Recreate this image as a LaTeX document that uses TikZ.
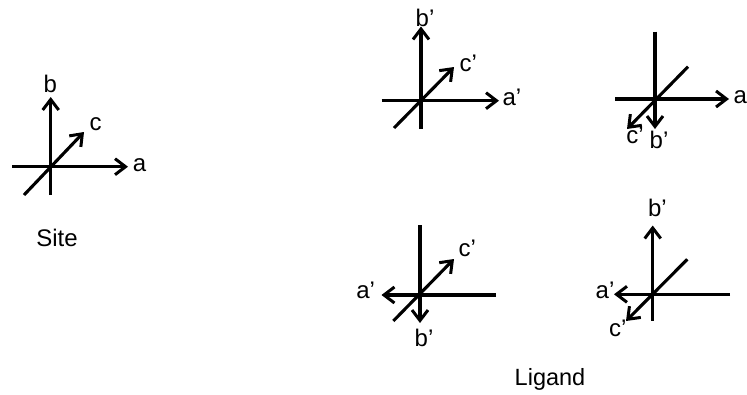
\documentclass[tikz,border=0pt]{standalone}
\usepackage{fontspec}
\setmainfont{Liberation Sans}
\usetikzlibrary{arrows.meta}
\begin{document}
\begin{tikzpicture}[x=1pt,y=-1pt,
  axisline/.style={line width=3.1pt,line cap=butt},
  axisarrow/.style={axisline,-{Straight Barb[length=10.5pt,width=16pt,line width=3pt]}},
  lbl/.style={inner sep=0pt,anchor=base west,font=\fontsize{24}{27}\selectfont},
  captionlbl/.style={inner sep=0pt,anchor=base,font=\fontsize{23.5}{27}\selectfont}]
\path[use as bounding box] (0,0) rectangle (747,394);

% ---------------- Site ----------------
\coordinate (sO)  at (50.7,166.7);
\coordinate (sAl) at (12,166.7);
\coordinate (sAr) at (128,166.7);
\coordinate (sBb) at (50.7,195);
\coordinate (sBt) at (50.7,97);
\coordinate (sCt) at (24,195);
\coordinate (sCh) at (84,132);
\draw[axisarrow] (sAl) -- (sAr);
\draw[axisarrow] (sBb) -- (sBt);
\draw[axisarrow] (sCt) -- (sCh);
\node[lbl] (sa) at (132.7,171) {a};
\node[lbl] (sb) at (43.5,92.7) {b};
\node[lbl] (sc) at (89.3,130) {c};
\node[lbl] (site) at (36.2,246.7) {Site};

% ---------------- Ligand 1 (top left) ----------------
\coordinate (l1O)  at (421,100.7);
\coordinate (l1Al) at (381.7,100.7);
\coordinate (l1Ar) at (499,100.7);
\coordinate (l1Bb) at (421,129);
\coordinate (l1Bt) at (421,26.5);
\coordinate (l1Ct) at (394,128);
\coordinate (l1Ch) at (454,67);
\draw[axisarrow] (l1Al) -- (l1Ar);
\draw[axisarrow] (l1Bb) -- (l1Bt);
\draw[axisarrow] (l1Ct) -- (l1Ch);
\node[lbl] (l1a) at (502.3,105.7) {a'};
\node[lbl] (l1b) at (415.5,26.7) {b'};
\node[lbl] (l1c) at (459.3,71.7) {c'};

% ---------------- Ligand 2 (top right) ----------------
\coordinate (l2O)  at (655,99);
\coordinate (l2Al) at (615,99);
\coordinate (l2Ar) at (729,99);
\coordinate (l2Bt) at (655,31.7);
\coordinate (l2Bb) at (655,129);
\coordinate (l2Ct) at (688,66.7);
\coordinate (l2Ch) at (627,129);
\draw[axisarrow] (l2Al) -- (l2Ar);
\draw[axisarrow] (l2Bt) -- (l2Bb);
\draw[axisarrow] (l2Ct) -- (l2Ch);
\node[lbl] (l2a) at (733.3,103.3) {a};
\node[lbl] (l2c) at (626.2,143.3) {c'};
\node[lbl] (l2b) at (649.5,148.3) {b'};

% ---------------- Ligand 3 (bottom left) ----------------
\coordinate (l3O)  at (420,295);
\coordinate (l3Ar) at (496,295);
\coordinate (l3Al) at (381.5,295);
\coordinate (l3Bt) at (420,225);
\coordinate (l3Bb) at (420,323);
\coordinate (l3Ct) at (393.3,321);
\coordinate (l3Ch) at (454,259);
\draw[axisarrow] (l3Ar) -- (l3Al);
\draw[axisarrow] (l3Bt) -- (l3Bb);
\draw[axisarrow] (l3Ct) -- (l3Ch);
\node[lbl] (l3a) at (356.2,298.3) {a'};
\node[lbl] (l3c) at (458.3,256.7) {c'};
\node[lbl] (l3b) at (414.5,346.7) {b'};

% ---------------- Ligand 4 (bottom right) ----------------
\coordinate (l4O)  at (652.7,294.3);
\coordinate (l4Ar) at (730,294.3);
\coordinate (l4Al) at (614,294.3);
\coordinate (l4Bb) at (652.7,320.7);
\coordinate (l4Bt) at (652.7,225.5);
\coordinate (l4Ct) at (687.3,259.3);
\coordinate (l4Ch) at (626,321);
\draw[axisarrow] (l4Ar) -- (l4Al);
\draw[axisarrow] (l4Bb) -- (l4Bt);
\draw[axisarrow] (l4Ct) -- (l4Ch);
\node[lbl] (l4b) at (647.8,216.7) {b'};
\node[lbl] (l4a) at (595.5,298.3) {a'};
\node[lbl] (l4c) at (608.8,336.7) {c'};

\node[captionlbl] (ligand) at (550,385) {Ligand};
\end{tikzpicture}
\end{document}
